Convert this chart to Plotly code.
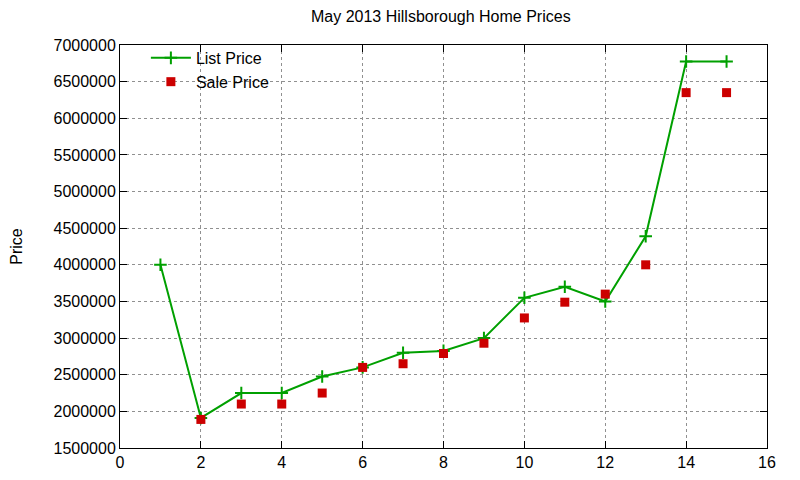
import plotly.graph_objects as go

# Datos
list_x = [1, 2, 3, 4, 5, 6, 7, 8, 9, 10, 11, 12, 13, 14, 15]
list_price = [4000000, 1910000, 2250000, 2250000, 2475000, 2600000, 2800000, 2825000,
              3000000, 3550000, 3700000, 3500000, 4390000, 6775000, 6775000]

sale_x = [2, 3, 4, 5, 6, 7, 8, 9, 10, 11, 12, 13, 14, 15]
sale_price = [1890000, 2100000, 2100000, 2250000, 2600000, 2650000, 2790000,
              2930000, 3275000, 3490000, 3600000, 4000000, 6350000, 6350000]

x_ticks = list(range(0, 17, 2))
y_ticks = list(range(1500000, 7000001, 500000))

fig = go.Figure()

fig.add_trace(go.Scatter(
    x=list_x, y=list_price, name="List Price",
    mode="lines+markers",
    line=dict(color="#00a000", width=2),
    marker=dict(symbol="cross-thin", size=9, line=dict(color="#00a000", width=2)),
))

fig.add_trace(go.Scatter(
    x=sale_x, y=sale_price, name="Sale Price",
    mode="markers",
    marker=dict(symbol="square", size=9, color="#cc0000"),
))

axis_style = dict(
    showline=True, linecolor="black", linewidth=1, mirror="ticks",
    ticks="inside", ticklen=7, tickcolor="black",
    showgrid=True, gridcolor="#909090", griddash="dot", gridwidth=1,
    zeroline=False, automargin=False,
    tickfont=dict(size=16, color="black"),
)

fig.update_xaxes(range=[0, 16], tickvals=x_ticks, **axis_style)
fig.update_yaxes(range=[1500000, 7000000], tickvals=y_ticks,
                 tickformat="d", title=dict(text="Price", font=dict(size=16), standoff=30),
                 **axis_style)

fig.update_layout(
    width=800, height=480,
    margin=dict(l=112, r=41, t=37, b=40),
    paper_bgcolor="white", plot_bgcolor="white",
    font=dict(family="Liberation Sans, Arial, sans-serif", color="black", size=16),
    title=dict(text="May 2013 Hillsborough Home Prices", x=0.541, xanchor="center",
               y=0.995, yanchor="top", font=dict(size=16)),
    showlegend=True,
    legend=dict(x=0.04, y=1.01, xanchor="left", yanchor="top",
                bgcolor="rgba(0,0,0,0)", font=dict(size=16),
                tracegroupgap=0, itemwidth=40),
)

fig.write_html("out.html")
